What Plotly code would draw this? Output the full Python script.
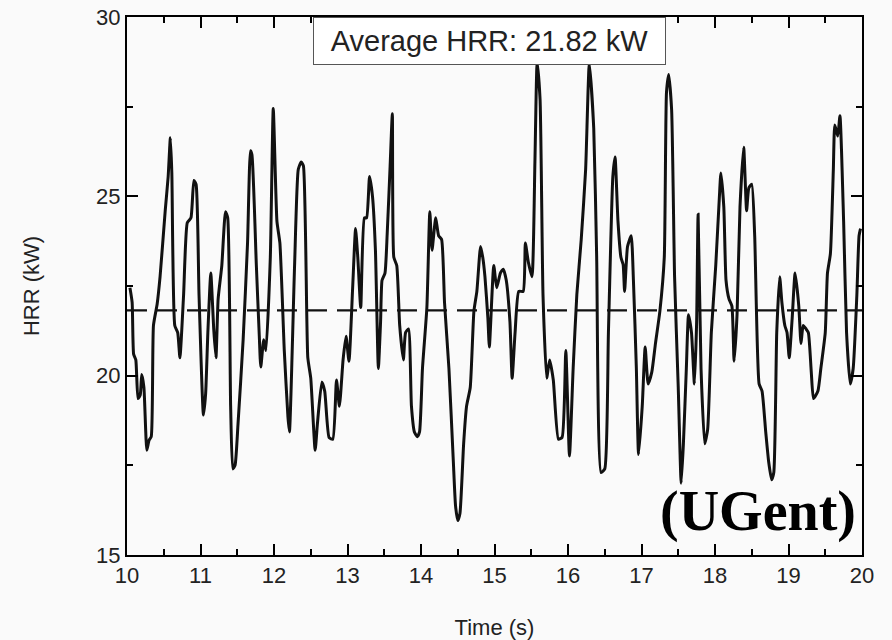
import plotly.graph_objects as go

time_s = [10.04, 10.07, 10.09, 10.12, 10.15, 10.18, 10.20, 10.23, 10.27, 10.30, 10.33, 10.36, 10.41, 10.45,
          10.52, 10.56, 10.59, 10.61, 10.65, 10.69, 10.72, 10.77, 10.82, 10.87, 10.91, 10.94, 10.98, 11.04,
          11.07, 11.10, 11.14, 11.18, 11.21, 11.24, 11.29, 11.34, 11.37, 11.41, 11.44, 11.47, 11.51, 11.58,
          11.64, 11.68, 11.70, 11.76, 11.80, 11.82, 11.86, 11.89, 11.95, 11.99, 12.04, 12.08, 12.14, 12.19,
          12.21, 12.28, 12.33, 12.37, 12.40, 12.46, 12.50, 12.56, 12.59, 12.65, 12.69, 12.75, 12.80, 12.85,
          12.89, 12.94, 12.98, 13.02, 13.07, 13.11, 13.14, 13.18, 13.23, 13.26, 13.30, 13.34, 13.38, 13.42,
          13.45, 13.47, 13.51, 13.54, 13.58, 13.61, 13.63, 13.67, 13.71, 13.76, 13.79, 13.83, 13.87, 13.91,
          13.95, 13.98, 14.02, 14.08, 14.12, 14.15, 14.20, 14.24, 14.28, 14.32, 14.38, 14.44, 14.47, 14.50,
          14.53, 14.58, 14.62, 14.67, 14.72, 14.76, 14.81, 14.84, 14.87, 14.91, 14.93, 14.99, 15.03, 15.08,
          15.12, 15.16, 15.21, 15.24, 15.28, 15.33, 15.39, 15.42, 15.46, 15.51, 15.55, 15.58, 15.62, 15.66,
          15.71, 15.75, 15.80, 15.87, 15.92, 15.97, 16.02, 16.07, 16.12, 16.18, 16.24, 16.29, 16.35, 16.39,
          16.45, 16.50, 16.55, 16.61, 16.64, 16.68, 16.72, 16.75, 16.77, 16.81, 16.86, 16.89, 16.93, 16.96,
          17.01, 17.05, 17.09, 17.14, 17.19, 17.25, 17.31, 17.34, 17.37, 17.41, 17.45, 17.50, 17.54, 17.57,
          17.61, 17.64, 17.68, 17.72, 17.75, 17.77, 17.81, 17.86, 17.90, 17.95, 18.01, 18.06, 18.08, 18.12,
          18.15, 18.19, 18.23, 18.26, 18.30, 18.34, 18.39, 18.43, 18.46, 18.50, 18.54, 18.60, 18.64, 18.69,
          18.73, 18.77, 18.80, 18.84, 18.88, 18.91, 18.95, 18.98, 19.01, 19.05, 19.09, 19.14, 19.17, 19.20,
          19.24, 19.27, 19.31, 19.34, 19.40, 19.44, 19.50, 19.53, 19.57, 19.61, 19.63, 19.67, 19.70, 19.75,
          19.79, 19.84, 19.88, 19.93, 19.96, 19.98]
hrr_kw = [22.45, 22.04, 20.6, 20.44, 19.36, 19.46, 20.03, 19.67, 17.92, 18.2, 18.3, 21.4, 21.99, 22.76,
          24.6, 25.55, 26.63, 25.65, 21.4, 21.2, 20.5, 22.25, 24.26, 24.4, 25.44, 25.33, 22.25, 18.9,
          19.5, 21.2, 22.86, 21.3, 20.5, 22.14, 23.07, 24.57, 24.4, 19.15, 17.4, 17.5, 18.64, 21.0,
          23.7, 26.27, 26.16, 23.07, 21.1, 20.24, 21.0, 20.7, 23.3, 27.45, 24.3, 23.7, 20.7, 18.84,
          18.43, 23.07, 25.75, 25.96, 25.85, 20.5, 19.93, 17.92, 18.64, 19.82, 19.57, 18.27, 18.23, 19.88,
          19.15, 20.45, 21.1, 20.4, 22.45, 24.1, 23.3, 21.9, 24.4, 24.4, 25.55, 25.0, 23.5, 20.2,
          21.5, 22.66, 22.86, 23.95, 25.85, 27.3, 23.3, 23.07, 21.4, 20.44, 21.2, 21.3, 19.15, 18.43,
          18.3, 18.43, 20.2, 21.9, 24.57, 23.5, 24.4, 23.9, 23.8, 22.04, 20.2, 17.6, 16.37, 15.96,
          16.16, 18.1, 19.15, 19.67, 21.8, 22.35, 23.6, 23.3, 22.76, 21.6, 20.8, 23.07, 22.45, 22.86,
          22.97, 22.66, 21.5, 19.93, 21.2, 22.35, 22.35, 23.7, 23.17, 22.76, 25.96, 28.74, 27.7, 22.25,
          19.93, 20.44, 19.88, 18.23, 18.28, 20.7, 17.76, 20.2, 22.25, 23.8, 25.75, 28.7, 26.9, 23.3,
          17.3, 17.4, 21.2, 25.55, 26.1, 24.3, 23.3, 23.1, 22.35, 23.6, 23.9, 22.66, 20.2, 17.8,
          19.15, 20.8, 19.77, 20.1, 20.9, 21.8, 23.3, 27.9, 28.4, 27.4, 22.76, 19.67, 17.0, 18.1,
          20.2, 21.7, 21.2, 19.77, 21.5, 24.5, 20.2, 18.1, 18.5, 21.2, 23.07, 25.0, 25.65, 24.7,
          22.66, 22.14, 21.94, 20.4, 21.7, 24.7, 26.37, 24.6, 25.23, 25.34, 23.9, 19.77, 19.57, 18.43,
          17.6, 17.1, 17.3, 21.2, 22.76, 22.04, 21.4, 21.2, 20.5, 21.6, 22.86, 21.94, 20.9, 21.4,
          21.3, 21.2, 20.1, 19.36, 19.57, 20.2, 21.2, 22.86, 23.4, 25.75, 26.99, 26.68, 27.25, 24.3,
          21.2, 19.77, 20.2, 22.25, 23.9, 24.1]
average_hrr = 21.82
x_range = [10, 20]
y_range = [15, 30]

fig = go.Figure()
fig.add_trace(go.Scatter(x=time_s, y=hrr_kw, mode="lines",
                         line=dict(color="#111111", width=3, shape="spline", smoothing=0.5),
                         showlegend=False))
fig.add_trace(go.Scatter(x=list(x_range), y=[average_hrr, average_hrr], mode="lines",
                         line=dict(color="#111111", width=2.2, dash="20px,10px"), showlegend=False))

label_font = dict(family="Liberation Sans, Arial", size=22, color="#222222")
clear = "rgba(0,0,0,0)"
axis_common = dict(automargin=False, showline=True, linecolor="black", linewidth=2, mirror="ticks",
                   ticks="inside", ticklen=11, tickwidth=2, tickcolor="black",
                   gridcolor=clear, zerolinecolor=clear, tickfont=label_font)

fig.update_layout(
    xaxis=dict(range=list(x_range), dtick=1,
               minor=dict(ticks="inside", ticklen=6, dtick=0.5, tickwidth=2, tickcolor="black"),
               title=dict(text="Time (s)", font=label_font, standoff=32), **axis_common),
    yaxis=dict(range=list(y_range), dtick=5,
               minor=dict(ticks="inside", ticklen=6, dtick=2.5, tickwidth=2, tickcolor="black"),
               title=dict(text="HRR (kW)", font=label_font, standoff=50), **axis_common),
)

fig.add_annotation(x=0.4935, y=1.0, xref="paper", yref="paper", xanchor="center", yanchor="top",
                   text="Average HRR: 21.82 kW", showarrow=False,
                   font=dict(family="Liberation Sans, Arial", size=29, color="#222222"),
                   bordercolor="#555555", borderwidth=1, borderpad=7, bgcolor="white",
                   width=337)
fig.add_annotation(x=0.9945, y=0.018, xref="paper", yref="paper", xanchor="right", yanchor="bottom",
                   text="<b>(UGent)</b>", showarrow=False,
                   font=dict(family="Liberation Serif, Times New Roman", size=56, color="black"))

fig.update_layout(width=892, height=640, margin=dict(l=127, r=30, t=17, b=85, autoexpand=False),
                  paper_bgcolor="#fafafa", plot_bgcolor="#fafafa", showlegend=False)

fig.write_html("out.html")
